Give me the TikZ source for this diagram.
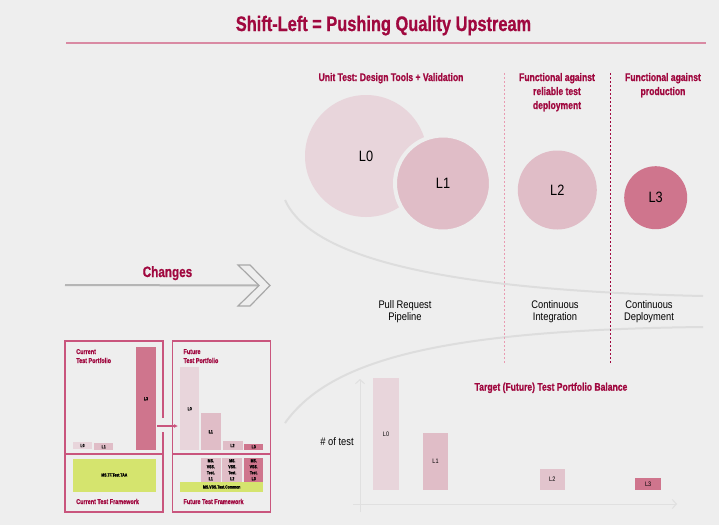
\documentclass[tikz,border=0pt]{standalone}
\usepackage{fontspec}
\setmainfont{Liberation Sans}
\newfontfamily\condb[FakeStretch=0.78,BoldFeatures={FakeBold=0.8}]{Liberation Sans}
\newfontfamily\condr[FakeStretch=0.85]{Liberation Sans}
\usepackage{tikz}
\usetikzlibrary{arrows.meta,positioning,calc}
\frenchspacing

\definecolor{bgcol}{HTML}{EEEEEE}
\definecolor{crimson}{HTML}{A0083F}
\definecolor{rulec}{HTML}{D98AA3}
\definecolor{panelc}{HTML}{C9557D}
\definecolor{pale}{HTML}{E8D5DB}
\definecolor{mid}{HTML}{E0BDC7}
\definecolor{dark}{HTML}{CF758D}
\definecolor{limeg}{HTML}{D5E46E}
\definecolor{softgrey}{HTML}{DDDDDD}
\definecolor{chev}{HTML}{A8A8A8}
\definecolor{linegrey}{HTML}{B5B5B5}
\definecolor{dashpink}{HTML}{E99BB1}

\begin{document}
\begin{tikzpicture}[x=1pt,y=-1pt,
  hdr/.style={font=\condb\bfseries\fontsize{11}{14}\selectfont,text=crimson,align=center},
  stage/.style={font=\condr\fontsize{11}{12}\selectfont,align=center},
  lvl/.style={circle,inner sep=0pt,font=\condr\fontsize{15}{15}\selectfont},
  bar/.style={rectangle,inner sep=0pt,font=\condb\bfseries\fontsize{4.5}{6}\selectfont,align=center},
  tbar/.style={rectangle,inner sep=0pt,font=\condr\fontsize{6.5}{7}\selectfont},
  ptitle/.style={font=\condb\bfseries\fontsize{7}{9}\selectfont,text=crimson,align=left,anchor=base west},
  soft/.style={draw=softgrey,line width=2pt},
  axis/.style={draw=black!12,line width=1pt,-{Straight Barb[length=4pt,width=9pt]}},
  panel/.style={draw=panelc,line width=1.2pt},
]
\fill[bgcol] (0,0) rectangle (719,525);
\useasboundingbox (0,0) rectangle (719,525);

% title
\node[font=\condb\bfseries\fontsize{21}{24}\selectfont,text=crimson,anchor=base] (title) at (383.5,31) {Shift-Left = Pushing Quality Upstream};
\draw[rulec,line width=2pt] (66,42.5) -- (706,42.5);

% flow curves
\draw[soft] (285,200) .. controls (310,255) and (430,290) .. (703,296);
\draw[soft] (285,423) .. controls (330,360) and (440,330) .. (703,327);

% stage separators
\draw[dashpink,line width=0.8pt,dash pattern=on 2pt off 2pt] (504,73) -- (504,364);
\draw[crimson,line width=1pt,dash pattern=on 2pt off 2pt] (610,73) -- (610,364);

% headings (base = last line)
\node[hdr,anchor=base] (hunit) at (391,81) {Unit Test: Design Tools + Validation};
\node[hdr,anchor=base] (hci) at (557,109) {Functional against\\reliable test\\deployment};
\node[hdr,anchor=base] (hcd) at (663,95) {Functional against\\production};

% levels
\node[lvl,fill=pale,minimum size=122] (l0) at (366,156) {L0};
\node[lvl,fill=mid,draw=bgcol,line width=4pt,minimum size=96] (l1) at (443,183.5) {L1};
\node[lvl,fill=mid,minimum size=79] (l2) at (557.3,190) {L2};
\node[lvl,fill=dark,minimum size=63] (l3) at (655.7,197.7) {L3};

% stages
\node[stage,anchor=base] (pr) at (405,320) {Pull Request\\Pipeline};
\node[stage,anchor=base] (ci) at (555,320) {Continuous\\Integration};
\node[stage,anchor=base] (cd) at (649,320) {Continuous\\Deployment};

% changes
\coordinate (chfrom) at (65,285);
\coordinate (chto) at (259,285.5);
\draw[linegrey,line width=2pt] (chfrom) -- (chto);
\draw[chev,line width=1.2pt,fill=bgcol] (238,265) -- (250,265) -- (270,285.5) -- (250,306) -- (238,306) -- (chto) -- cycle;
\node[font=\condb\bfseries\fontsize{15}{18}\selectfont,text=crimson,anchor=base] (changes) at (167.5,277) {Changes};

% current portfolio
\draw[panel] (163,418) -- (163,341) -- (65,341) -- (65,512) -- (163,512) -- (163,432);
\draw[panel] (65,454) -- (163,454);
\node[ptitle] (cur) at (72.7,363) {Current\\Test Portfolio};
\node[bar,fill=pale,minimum width=19,minimum height=7.5] (cl0) at (82.5,445.5) {L0};
\node[bar,fill=mid,minimum width=19,minimum height=7] (cl1) at (103.7,446.8) {L1};
\node[bar,fill=dark,minimum width=20,minimum height=103] (cl3) at (146,398.7) {L3};
\node[bar,fill=limeg,minimum width=83,minimum height=33] (ctf) at (114.3,475) {MS.TF.Test.TAA};
\node[ptitle] (curfw) at (72.7,504) {Current Test Framework};

% future portfolio
\draw[panel] (172.7,341) rectangle (270.7,512);
\draw[panel] (172.7,454) -- (270.7,454);
\node[ptitle] (fut) at (180,363) {Future\\Test Portfolio};
\node[bar,fill=pale,minimum width=19.3,minimum height=82.7] (fl0) at (189.7,408.7) {L0};
\node[bar,fill=mid,minimum width=19.7,minimum height=36.7] (fl1) at (210.8,431.7) {L1};
\node[bar,fill=mid,minimum width=20,minimum height=9] (fl2) at (232.5,445.5) {L2};
\node[bar,fill=dark,minimum width=19.3,minimum height=6.3] (fl3) at (253.7,446.8) {L3};
\node[bar,fill=mid,minimum width=19.7,minimum height=24] (fms1) at (210.8,469.7) {MS.\\VSS.\\Test.\\L1};
\node[bar,fill=mid,minimum width=20,minimum height=24] (fms2) at (232.3,469.7) {MS.\\VSS.\\Test.\\L2};
\node[bar,fill=dark,minimum width=19.3,minimum height=24] (fms3) at (253.7,469.7) {MS.\\VSS.\\Test.\\L3};
\node[bar,fill=limeg,minimum width=83.3,minimum height=10.7] (fcom) at (221.7,487) {MS.VSS.Test.Common};
\node[ptitle] (futfw) at (180,504) {Future Test Framework};
\coordinate (gapl) at (157,426);
\coordinate (gapr) at (178,426);
\draw[panelc,line width=1.2pt,-{Latex[length=4pt,width=4pt]}] (gapl) -- (gapr);

% target chart
\coordinate (yo) at (360,512);
\coordinate (ytop) at (360,379);
\coordinate (xo) at (353,504);
\coordinate (xend) at (677,504);
\draw[axis] (yo) -- (ytop);
\draw[axis] (xo) -- (xend);
\node[tbar,fill=pale,minimum width=25.3,minimum height=111.7] (tl0) at (386,434.2) {L0};
\node[tbar,fill=mid,minimum width=25.7,minimum height=57.3] (tl1) at (435.5,461.3) {L1};
\node[tbar,fill=mid!70!pale,minimum width=25.3,minimum height=20.7] (tl2) at (552.3,479.7) {L2};
\node[tbar,fill=dark,minimum width=25.7,minimum height=11.7] (tl3) at (648.2,484.2) {L3};
\node[stage,anchor=base] (ntest) at (337,445) {\# of test};
\node[hdr,anchor=base] (target) at (551,390.7) {Target (Future) Test Portfolio Balance};
\end{tikzpicture}
\end{document}
